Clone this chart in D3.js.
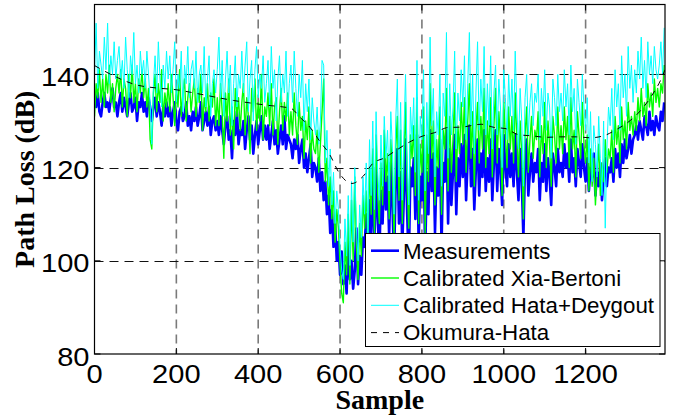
<!DOCTYPE html>
<html><head><meta charset="utf-8">
<script src="https://cdn.jsdelivr.net/npm/d3@7"></script>
<style>body{margin:0;background:#fff}svg{display:block}</style>
</head><body><svg id="c" width="678" height="418"></svg>
<script>
// ---- data, one value every 4 samples ----
const sampleStep = 4;
const measurements = [
135,133,136,132,131,134,136,133,134,132,135,137,133,134,131,
134,136,132,135,133,131,134,136,132,133,135,130,134,133,136,
132,134,131,135,133,130,133,135,131,134,132,129,133,131,134,
131,133,129,132,134,130,128,132,133,130,131,134,129,131,128,
132,130,133,129,131,134,128,130,132,129,133,127,130,131,128,
130,127,131,128,125,129,131,126,128,122,130,127,132,125,128,
127,130,124,128,131,126,129,123,127,130,125,128,131,126,129,
126,129,124,127,130,125,128,123,126,129,125,131,124,127,126,
125,122,126,124,127,121,124,126,120,123,119,122,125,118,121,
120,117,122,115,119,113,117,110,114,106,111,103,108,100,104,
97,102,95,99,93,104,96,100,94,98,107,95,101,97,105,
103,110,99,113,106,117,104,120,109,101,115,108,122,111,118,
105,121,112,100,117,124,108,119,103,114,126,110,99,120,116,
122,109,127,104,118,113,125,101,119,110,128,115,123,106,120,
114,126,103,121,117,128,108,124,112,119,127,110,122,116,125,
118,127,113,122,129,116,124,111,120,126,114,123,118,128,115,
122,117,126,113,121,128,115,124,119,112,127,120,116,125,118,
123,116,127,119,113,124,117,105,121,126,114,119,123,117,121,
119,124,113,121,117,125,115,122,118,112,123,120,116,124,119,
121,118,125,120,123,117,126,119,122,116,124,121,118,125,120,
117,122,115,120,118,123,114,119,116,121,113,118,122,116,120,
119,122,117,124,120,123,118,125,121,126,122,124,127,123,126,
127,129,126,130,128,126,131,129,127,132,128,130,127,131,129,
128,132,130,134];
const xiaBertoni = [
131,138,135,141,134,139,133,140,136,142,134,138,132,137,140,
136,141,133,139,137,131,140,135,142,134,138,132,139,136,141,
135,139,133,137,126,124,136,140,132,138,134,141,130,136,133,
138,132,140,135,129,137,133,141,131,136,139,130,135,138,132,
136,139,131,137,134,140,128,135,132,138,130,136,133,139,129,
135,129,138,132,122,136,130,139,127,133,124,137,131,135,128,
134,138,127,135,131,123,137,132,139,128,134,130,140,126,133,
131,136,129,138,127,133,135,125,132,137,128,134,130,136,127,
132,127,136,129,125,134,128,131,122,130,126,133,121,128,124,
123,128,119,125,132,139,117,122,112,118,109,115,104,111,107,
99,93,91,104,97,110,95,113,100,118,103,96,108,101,114,
107,115,103,120,110,124,106,127,114,108,121,112,128,117,123,
109,126,118,105,124,131,113,128,108,121,134,116,107,127,122,
129,114,135,108,125,119,133,106,127,117,138,122,130,112,126,
120,133,110,128,124,137,115,131,119,126,136,117,129,123,134,
125,135,119,130,138,122,132,116,128,134,121,131,124,137,120,
130,123,135,118,129,137,121,132,126,114,134,127,120,133,124,
131,121,136,126,118,130,123,109,127,133,119,126,131,122,128,
126,132,118,129,123,134,120,130,125,116,131,127,121,133,124,
129,123,133,126,131,120,135,124,128,118,132,127,122,134,125,
121,127,115,124,116,122,112,119,125,114,121,117,126,119,124,
122,128,119,131,125,129,121,133,126,130,124,134,128,131,127,
132,128,135,130,137,131,134,129,138,133,136,131,139,134,137,
133,138,136,142];
const hataDeygout = [
140,151,137,145,142,139,148,141,151,138,144,140,147,139,143,
146,139,143,137,148,141,135,144,140,149,138,142,136,145,140,
143,137,145,140,134,125,138,144,136,147,139,133,142,137,145,
139,144,136,141,147,134,140,137,145,132,142,138,146,135,141,
143,137,145,134,140,142,136,146,133,139,144,131,138,141,136,
141,148,135,143,131,139,145,136,142,129,138,144,133,140,137,
145,136,142,147,132,139,143,130,141,146,135,140,137,144,134,
138,143,133,146,137,141,130,139,144,134,140,136,145,131,138,
142,134,145,137,131,140,135,143,128,138,132,139,126,135,130,
127,133,125,130,143,142,121,128,116,124,112,119,108,115,111,
103,98,96,109,101,114,99,117,104,120,107,100,112,105,118,
110,121,106,126,114,130,111,132,119,113,127,116,131,122,128,
115,132,124,110,130,139,118,134,113,127,140,121,112,133,126,
135,119,143,113,131,126,141,115,134,123,148,129,137,118,132,
127,140,116,136,131,149,122,138,127,133,145,124,136,130,141,
133,144,126,138,149,129,140,123,136,147,128,139,132,146,127,
138,129,144,124,136,142,127,139,133,120,141,135,126,140,131,
139,128,145,133,124,137,130,116,135,140,127,134,138,129,136,
134,140,126,137,131,141,128,136,133,122,139,135,129,140,132,
136,130,141,133,138,127,142,132,137,125,139,134,129,140,133,
128,135,121,132,117,129,125,118,131,122,114,130,107,124,133,
129,137,126,141,133,138,128,144,135,140,131,146,137,142,134,
141,136,145,139,148,137,143,135,147,140,144,138,146,141,139,
142,147,140,150];
const okumuraSamples = [0,54,100,150,200,250,340,420,480,502,527,550,574,599,629,657,680,709,737,770,803,831,864,898,945,978,1003,1035,1070,1104,1138,1178,1211,1243,1276,1309,1335,1362,1384,1394];
const okumuraValues  = [141.9,139.4,137.8,137.1,136.7,135.9,134.4,133.4,132.7,130.8,128.6,125.7,122.9,118.7,116.6,118.2,120.9,122.1,123.7,125.5,126.8,127.5,128.6,128.7,129.3,128.6,128.4,127.1,126.8,126.5,126.6,126.6,126.4,126.8,128.2,130.1,132.3,135.5,138.9,141.0];
const xTicks = [0,200,400,600,800,1000,1200];
const yTicks = [80,100,120,140];
const legendNames = ["Measurements","Calibrated Xia-Bertoni","Calibrated Hata+Deygout","Okumura-Hata"];

// ---- layout ----
const svg = d3.select("#c");
const L = 94.5, R = 665, T = 4.5, B = 354;
const x = d3.scaleLinear().domain([0, 1394]).range([L, R]);
const y = d3.scaleLinear().domain([80, 155]).range([B, T]);

svg.append("defs").append("clipPath").attr("id","clip")
  .append("rect").attr("x",L).attr("y",T).attr("width",R-L).attr("height",B-T);

// grid
const grid = svg.append("g");
grid.selectAll(".vg").data(xTicks.filter(d=>d>0)).join("line")
  .attr("x1",d=>x(d)).attr("x2",d=>x(d)).attr("y1",T).attr("y2",B)
  .attr("stroke","#7a7a7a").attr("stroke-width",1.6).attr("stroke-dasharray","9,6");
grid.selectAll(".hg").data(yTicks.filter(d=>d>80)).join("line")
  .attr("x1",L).attr("x2",R).attr("y1",d=>Math.round(y(d))+0.5).attr("y2",d=>Math.round(y(d))+0.5)
  .attr("stroke","#111").attr("stroke-width",1).attr("stroke-dasharray","9,6");

// series
const plot = svg.append("g").attr("clip-path","url(#clip)");
const mk = arr => arr.map((v,i)=>[i*sampleStep, v]);
const line = d3.line().x(d=>x(d[0])).y(d=>y(d[1]));
const styles = [
  {data: mk(measurements), color:"#0000ff", w:2.6},
  {data: mk(xiaBertoni), color:"#00ff00", w:1.4},
  {data: mk(hataDeygout), color:"#00ffff", w:1.0}
];
styles.forEach(s=>{
  plot.append("path").attr("d", line(s.data)).attr("fill","none")
    .attr("stroke", s.color).attr("stroke-width", s.w).attr("stroke-linejoin","round");
});
const okData = okumuraSamples.map((s,i)=>[s, okumuraValues[i]]);
plot.append("path").attr("d", d3.line().curve(d3.curveMonotoneX).x(d=>x(d[0])).y(d=>y(d[1]))(okData))
  .attr("fill","none").attr("stroke","#000").attr("stroke-width",1).attr("stroke-dasharray","6,6");

// axes box & ticks
svg.append("rect").attr("x",L).attr("y",T).attr("width",R-L).attr("height",B-T)
  .attr("fill","none").attr("stroke","#000").attr("stroke-width",1.2);
const tk = svg.append("g").attr("stroke","#000").attr("stroke-width",1);
xTicks.forEach(d=>{
  tk.append("line").attr("x1",x(d)).attr("x2",x(d)).attr("y1",B).attr("y2",B-6);
  tk.append("line").attr("x1",x(d)).attr("x2",x(d)).attr("y1",T).attr("y2",T+6);
});
yTicks.forEach(d=>{
  tk.append("line").attr("x1",L).attr("x2",L+6).attr("y1",y(d)).attr("y2",y(d));
  tk.append("line").attr("x1",R).attr("x2",R-6).attr("y1",y(d)).attr("y2",y(d));
});

// tick labels
const tickFont = "'Liberation Sans', Arial, Helvetica, sans-serif";
svg.append("g").selectAll("text").data(xTicks).join("text")
  .attr("transform", d=>`translate(${x(d)},382.5) scale(1.14,1)`)
  .attr("text-anchor","middle").attr("font-family",tickFont).attr("font-size",25.5).text(d=>d);
svg.append("g").selectAll("text").data(yTicks).join("text")
  .attr("transform", d=>`translate(89.5,${y(d)+11.5}) scale(1.14,1)`)
  .attr("text-anchor","end").attr("font-family",tickFont).attr("font-size",25.5).text(d=>d);

// axis labels
const serif = "'Liberation Serif','Times New Roman',Times,serif";
svg.append("text").attr("x",(L+R)/2).attr("y",409).attr("text-anchor","middle")
  .attr("font-family",serif).attr("font-weight","bold").attr("font-size",28).text("Sample");
svg.append("text").attr("transform",`translate(34,${(T+B)/2}) rotate(-90)`).attr("text-anchor","middle")
  .attr("font-family",serif).attr("font-weight","bold").attr("font-size",28).text("Path Loss (dB)");

// legend
const lg = svg.append("g");
lg.append("rect").attr("x",365.5).attr("y",233.5).attr("width",294.5).attr("height",113)
  .attr("fill","#fff").attr("stroke","#000").attr("stroke-width",1);
const rowY = [250.7, 278, 305.3, 332.6];
const legStyles = [
  {color:"#0000ff", w:2.6, dash:null},
  {color:"#00ff00", w:1.4, dash:null},
  {color:"#00ffff", w:1.0, dash:null},
  {color:"#000", w:1.0, dash:"6,6"}
];
legendNames.forEach((n,i)=>{
  const l = lg.append("line").attr("x1",371).attr("x2",399).attr("y1",rowY[i]).attr("y2",rowY[i])
    .attr("stroke",legStyles[i].color).attr("stroke-width",legStyles[i].w);
  if (legStyles[i].dash) l.attr("stroke-dasharray",legStyles[i].dash);
  lg.append("text").attr("x",403).attr("y",rowY[i]+7.8).attr("font-family",tickFont)
    .attr("font-size",22.3).text(n);
});
</script></body></html>
